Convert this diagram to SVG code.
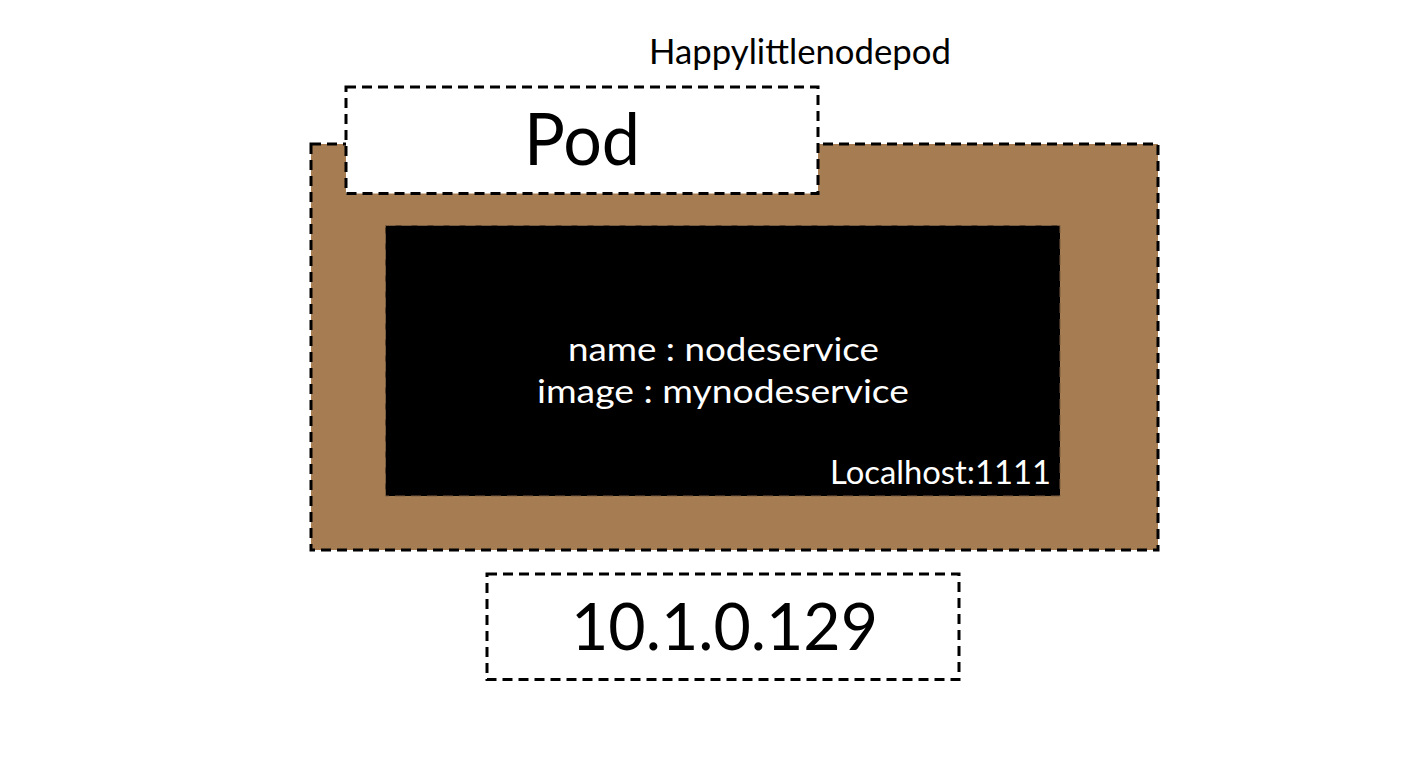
<svg xmlns="http://www.w3.org/2000/svg" width="1428" height="768" viewBox="0 0 1428 768">
<style>
.dash{stroke:#000;stroke-width:3;stroke-dasharray:10 6;}
.t{font-family:Lato,"Open Sans",sans-serif;}
.dark{fill:#000;}
.light{fill:#fff;}
</style>
<rect width="1428" height="768" fill="#fff"/>
<g id="title">
<text class="t dark" x="649" y="64" font-size="35" textLength="302" lengthAdjust="spacingAndGlyphs">Happylittlenodepod</text>
</g>
<g id="pod">
<rect x="311" y="144" width="847" height="406" fill="#A67C52" class="dash"/>
</g>
<g id="pod-label">
<rect x="346" y="87" width="472" height="106.5" fill="#fff" class="dash"/>
<text class="t dark" x="524" y="165" font-size="72" textLength="116" lengthAdjust="spacingAndGlyphs">Pod</text>
</g>
<g id="container">
<rect x="385.5" y="225.5" width="674.5" height="270.5" fill="#000" stroke="#7a5c3e" stroke-width="1" stroke-dasharray="10 6"/>
<text class="t light" x="568" y="361" font-size="32" textLength="311" lengthAdjust="spacingAndGlyphs">name : nodeservice</text>
<text class="t light" x="537" y="403" font-size="32" textLength="372" lengthAdjust="spacingAndGlyphs">image : mynodeservice</text>
<text class="t light" x="830" y="484" font-size="33" textLength="221" lengthAdjust="spacingAndGlyphs">Localhost:1111</text>
</g>
<g id="ip">
<rect x="487" y="574" width="472" height="105.5" fill="#fff" class="dash"/>
<text class="t dark" x="571" y="650" font-size="66" textLength="307" lengthAdjust="spacingAndGlyphs">10.1.0.129</text>
</g>
<g id="connectors"/>
</svg>
